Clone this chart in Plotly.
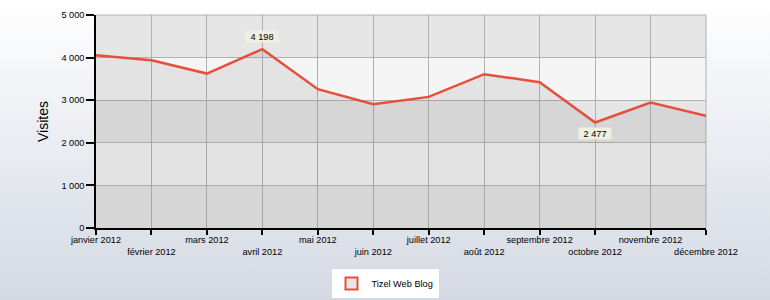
import base64
import plotly.graph_objects as go

months = ["janvier 2012", "février 2012", "mars 2012", "avril 2012", "mai 2012", "juin 2012",
          "juillet 2012", "août 2012", "septembre 2012", "octobre 2012", "novembre 2012", "décembre 2012"]
visits = [4054, 3939, 3625, 4198, 3259, 2907, 3078, 3611, 3423, 2477, 2945, 2633]
series_name = "Tizel Web Blog"
y_ticks = [0, 1000, 2000, 3000, 4000, 5000]

W, H = 770, 300
ML, MR, MT, MB = 96, 64, 15, 72
PW, PH = W - ML - MR, H - MT - MB
FONT = "Liberation Sans, Arial, sans-serif"
FS = 9.2
RED = "#e5503d"

def fmt(v):
    return f"{v:,}".replace(",", " ")

xs = list(range(len(months)))
ticktext = [m if i % 2 == 0 else "<br>" + m for i, m in enumerate(months)]

fig = go.Figure()
fig.add_trace(go.Scatter(
    x=xs, y=visits, mode="lines", fill="tozeroy",
    fillcolor="rgba(128,128,128,0.15)",
    line=dict(color=RED, width=2.5),
    showlegend=False, hoverinfo="skip",
))
# legend entry
fig.add_trace(go.Bar(
    x=[None], y=[None], name=series_name,
    marker=dict(color="#e6e6e6", line=dict(color=RED, width=2)),
    showlegend=True,
))

shapes = []
band_cols = ["#e6e6e6", "#f5f5f5"]
for k in range(len(y_ticks) - 1):
    shapes.append(dict(type="rect", xref="paper", yref="y", x0=0, x1=1,
                       y0=y_ticks[k], y1=y_ticks[k + 1],
                       fillcolor=band_cols[k % 2], line=dict(width=0), layer="below"))
shapes.append(dict(type="line", xref="paper", yref="paper", x0=0, x1=1, y0=1, y1=1,
                   line=dict(color="#b0b0b0", width=1), layer="below"))
shapes.append(dict(type="line", xref="paper", yref="paper", x0=1, x1=1, y0=0, y1=1,
                   line=dict(color="#b0b0b0", width=1), layer="below"))

svg = (f'<svg xmlns="http://www.w3.org/2000/svg" width="{W}" height="{H}" preserveAspectRatio="none">'
       '<defs><linearGradient id="g" x1="0" y1="0" x2="0" y2="1">'
       '<stop offset="0" stop-color="#ffffff"/><stop offset="1" stop-color="#d4d9e4"/>'
       '</linearGradient></defs><rect width="100%" height="100%" fill="url(#g)"/></svg>')
src = "data:image/svg+xml;base64," + base64.b64encode(svg.encode()).decode()

imax = visits.index(max(visits))
imin = visits.index(min(visits))
ann_common = dict(showarrow=False, bgcolor="#efefe2", font=dict(family=FONT, size=FS, color="black"),
                  borderpad=0, width=32, height=11)
annotations = [
    dict(x=imax, y=visits[imax], text=fmt(visits[imax]), yanchor="bottom", yshift=6, **ann_common),
    dict(x=imin, y=visits[imin], text=fmt(visits[imin]), yanchor="top", yshift=-5, **ann_common),
]

fig.update_layout(
    width=W, height=H,
    margin=dict(l=ML, r=MR, t=MT, b=MB, autoexpand=False),
    paper_bgcolor="#eef0f5",
    plot_bgcolor="rgba(0,0,0,0)",
    font=dict(family=FONT, size=FS, color="black"),
    separators=", ",
    images=[dict(source=src, xref="paper", yref="paper", x=-ML / PW, y=1 + MT / PH,
                 sizex=W / PW, sizey=H / PH, sizing="stretch", xanchor="left", yanchor="top",
                 layer="below")],
    shapes=shapes,
    annotations=annotations,
    xaxis=dict(range=[0, len(months) - 1], tickvals=xs, ticktext=ticktext, tickangle=0,
               automargin=False, ticklabelstandoff=-3,
               showgrid=True, gridcolor="#b0b0b0", gridwidth=1,
               showline=True, linecolor="black", linewidth=1.5,
               ticks="outside", ticklen=5, tickcolor="black", tickwidth=1.5,
               tickfont=dict(size=FS), zeroline=False, fixedrange=True),
    yaxis=dict(range=[0, 5000], tickvals=y_ticks, ticktext=[fmt(v) for v in y_ticks],
               automargin=False,
               showgrid=True, gridcolor="#b0b0b0", gridwidth=1,
               showline=True, linecolor="black", linewidth=1.5,
               ticks="outside", ticklen=8, tickcolor="black", tickwidth=1.5,
               tickfont=dict(size=FS), zeroline=False,
               title=dict(text="Visites", font=dict(size=14), standoff=10)),
    showlegend=True,
    legend=dict(orientation="h", xref="container", yref="container", x=0.5, xanchor="center",
                y=1 - 269 / H, yanchor="top", bgcolor="white", font=dict(size=FS)),
    bargap=0.5,
)

fig.write_html("out.html")
